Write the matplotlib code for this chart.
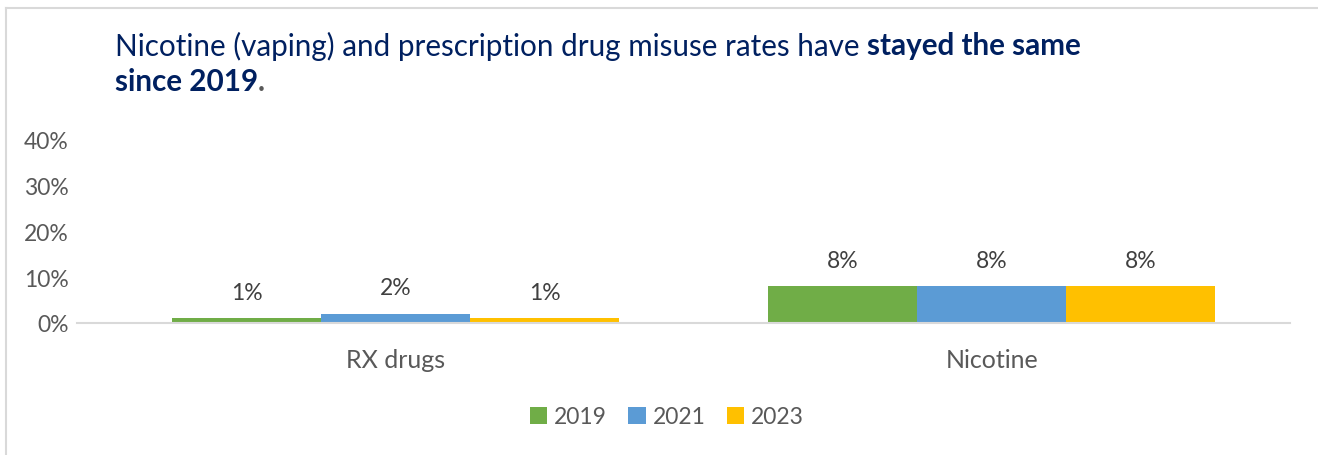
import matplotlib.pyplot as plt
from matplotlib.lines import Line2D
import numpy as np

categories = ["RX drugs", "Nicotine"]
years = ["2019", "2021", "2023"]
values = {
    "2019": [1, 8],
    "2021": [2, 8],
    "2023": [1, 8],
}
colors = ["#70AD47", "#5B9BD5", "#FFC000"]
yticks = [0, 10, 20, 30, 40]

plt.rcParams['font.family'] = ['Lato', 'DejaVu Sans']

W, H = 1318, 456
fig = plt.figure(figsize=(W / 100, H / 100), dpi=100)

# axes placed in pixel terms
x0, x1 = 77, 1290
y_top, y_bot = 141, 324
ax = fig.add_axes([x0 / W, 1 - y_bot / H, (x1 - x0) / W, (y_bot - y_top) / H])

x = np.arange(len(categories))
bw = 0.25
for i, yr in enumerate(years):
    pos = x + (i - 1) * bw
    bars = ax.bar(pos, values[yr], width=bw, color=colors[i], label=yr, zorder=2)
    for b, v in zip(bars, values[yr]):
        ax.annotate(f"{v}%", (b.get_x() + b.get_width() / 2, v), xytext=(0, 19),
                    textcoords='offset points', ha='center', va='center',
                    fontsize=16.5, color='#404040')

ax.set_xlim(-0.535, 1.5)
ax.set_ylim(0, 40)
ax.set_yticks(yticks)
ax.set_yticklabels([f"{t}%" for t in yticks], fontsize=16.5, color='#595959')
ax.set_xticks(x)
ax.set_xticklabels(categories, fontsize=18, color='#595959')
ax.tick_params(axis='both', length=0)
ax.tick_params(axis='y', pad=6)
ax.tick_params(axis='x', pad=18)
for s in ['top', 'right', 'left']:
    ax.spines[s].set_visible(False)
ax.spines['bottom'].set_color('#D9D9D9')
ax.spines['bottom'].set_linewidth(1.5)

leg = fig.legend(loc='center', bbox_to_anchor=(0.506, 1 - 418 / H), ncol=3, frameon=False,
                 fontsize=16.5, handlelength=0.75, handleheight=0.75, handletextpad=0.3,
                 columnspacing=0.95)
for t in leg.get_texts():
    t.set_color('#595959')

# title
navy = '#002060'
tsize = 21.3
first = fig.text(115 / W, 1 - 46 / H, "Nicotine (vaping) and prescription drug misuse rates have ",
                 fontsize=tsize, color=navy, va='center', ha='left')
fig.canvas.draw()
bb = first.get_window_extent()
fig.text(bb.x1 / W, 1 - 46 / H, "stayed the same", fontsize=tsize, color=navy,
         va='center', ha='left', fontweight='bold')
second = fig.text(115 / W, 1 - 82 / H, "since 2019", fontsize=tsize, color=navy, va='center',
                  ha='left', fontweight='bold')
fig.canvas.draw()
bb2 = second.get_window_extent()
fig.text(bb2.x1 / W, 1 - 82 / H, ".", fontsize=tsize, color='#595959', va='center', ha='left',
         fontweight='bold')

# frame lines (left and top only)
fig.add_artist(Line2D([5.5 / W, 5.5 / W], [0, 1 - 8.5 / H], color='#D9D9D9', lw=1.5))
fig.add_artist(Line2D([5.5 / W, 1], [1 - 8.5 / H, 1 - 8.5 / H], color='#D9D9D9', lw=1.5))

fig.savefig("out.png", dpi=100)
